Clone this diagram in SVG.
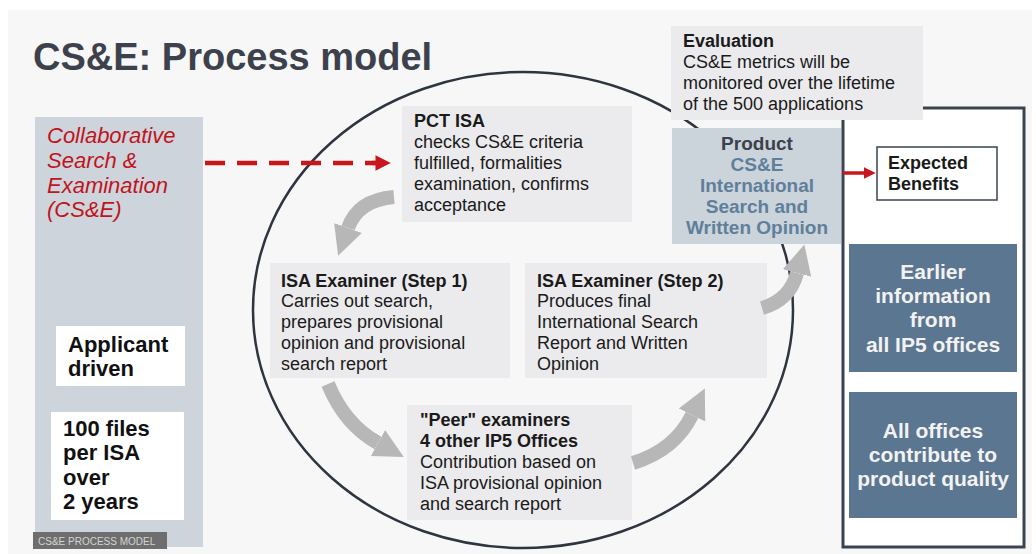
<svg xmlns="http://www.w3.org/2000/svg" width="1036" height="554" viewBox="0 0 1036 554">
<defs>
<style>
.t{font-family:"Liberation Sans",Arial,sans-serif;font-size:18px;fill:#1a1a1a}
.b{font-weight:bold}
.box{fill:#ebebed}
.red{font-family:"Liberation Sans",Arial,sans-serif;font-style:italic;font-size:22px;fill:#c0141c}
.wb{fill:#ffffff}
.blk{font-family:"Liberation Sans",Arial,sans-serif;font-weight:bold;font-size:22px;fill:#111}
.ben{fill:#5b7690}
.bt{font-family:"Liberation Sans",Arial,sans-serif;font-weight:bold;font-size:21px;fill:#f2f2f2;text-anchor:middle}
.pt{font-family:"Liberation Sans",Arial,sans-serif;font-weight:bold;font-size:19px;fill:#5f7f9a;text-anchor:middle}
.garrow{fill:none;stroke:#b7b7b7;stroke-width:14}
</style>
<marker id="gh" viewBox="0 0 10 10" refX="0" refY="5" markerWidth="2.1" markerHeight="2.5" orient="auto" markerUnits="strokeWidth">
<path d="M0,0 L10,5 L0,10 Z" fill="#b7b7b7"/>
</marker>
<marker id="rh" viewBox="0 0 10 10" refX="1" refY="5" markerWidth="3.4" markerHeight="3.6" orient="auto" markerUnits="strokeWidth">
<path d="M0,0 L10,5 L0,10 Z" fill="#c8161d"/>
</marker>
</defs>

<rect x="0" y="0" width="1036" height="554" fill="#ffffff"/>
<rect x="8" y="10" width="1024" height="544" fill="#f7f7f7"/>

<text x="33" y="70" font-family="Liberation Sans,Arial,sans-serif" font-weight="bold" font-size="38" fill="#3c414c">CS&amp;E: Process model</text>

<g id="left-panel">
<rect x="35" y="117" width="168" height="430" fill="#cdd4db"/>
<text class="red"><tspan x="47" y="143">Collaborative</tspan><tspan x="47" y="168">Search &amp;</tspan><tspan x="47" y="193">Examination</tspan><tspan x="47" y="217">(CS&amp;E)</tspan></text>
</g>
<g id="applicant">
<rect class="wb" x="56" y="326" width="129" height="60"/>
<text class="blk"><tspan x="68" y="352">Applicant</tspan><tspan x="68" y="376">driven</tspan></text>
</g>
<g id="files">
<rect class="wb" x="51" y="412" width="133" height="108"/>
<text class="blk"><tspan x="63" y="436">100 files</tspan><tspan x="63" y="460">per ISA</tspan><tspan x="63" y="485">over</tspan><tspan x="63" y="509">2 years</tspan></text>
</g>
<g id="footer">
<rect x="33" y="532" width="134" height="17" fill="#6e6e6e"/>
<text x="38" y="545" font-family="Liberation Sans,Arial,sans-serif" font-size="10" fill="#d4d4d4">CS&amp;E PROCESS MODEL</text>
</g>

<ellipse id="cycle" cx="523" cy="310" rx="270" ry="238" fill="none" stroke="#2e3440" stroke-width="2.5"/>

<g id="pct-isa">
<rect class="box" x="402" y="106" width="230" height="116"/>
<text class="t"><tspan class="b" x="414" y="127">PCT ISA</tspan><tspan x="414" y="148">checks CS&amp;E criteria</tspan><tspan x="414" y="169">fulfilled, formalities</tspan><tspan x="414" y="190">examination, confirms</tspan><tspan x="414" y="211">acceptance</tspan></text>
</g>

<g id="isa-step1">
<rect class="box" x="270" y="263" width="240" height="115"/>
<text class="t"><tspan class="b" x="281" y="287">ISA Examiner (Step 1)</tspan><tspan x="281" y="307">Carries out search,</tspan><tspan x="281" y="328">prepares provisional</tspan><tspan x="281" y="349">opinion and provisional</tspan><tspan x="281" y="370">search report</tspan></text>
</g>

<g id="isa-step2">
<rect class="box" x="525" y="263" width="242" height="115"/>
<text class="t"><tspan class="b" x="537" y="287">ISA Examiner (Step 2)</tspan><tspan x="537" y="307">Produces final</tspan><tspan x="537" y="328">International Search</tspan><tspan x="537" y="349">Report and Written</tspan><tspan x="537" y="370">Opinion</tspan></text>
</g>

<g id="peer">
<rect class="box" x="407" y="405" width="225" height="115"/>
<text class="t"><tspan class="b" x="420" y="426">"Peer" examiners</tspan><tspan class="b" x="420" y="447">4 other IP5 Offices</tspan><tspan x="420" y="468">Contribution based on</tspan><tspan x="420" y="489">ISA provisional opinion</tspan><tspan x="420" y="510">and search report</tspan></text>
</g>

<g id="benefits-frame">
<rect x="843" y="108" width="181" height="439" fill="#ffffff" stroke="#3a4350" stroke-width="3"/>
</g>

<g id="evaluation">
<rect class="box" x="671" y="26" width="252" height="94"/>
<text class="t"><tspan class="b" x="683" y="47">Evaluation</tspan><tspan x="683" y="68">CS&amp;E metrics will be</tspan><tspan x="683" y="89">monitored over the lifetime</tspan><tspan x="683" y="110">of the 500 applications</tspan></text>
</g>

<g id="product">
<rect x="672" y="128" width="169" height="116" fill="#cbd3db"/>
<text class="pt"><tspan x="757" y="150" fill="#3c414c">Product</tspan><tspan x="757" y="171">CS&amp;E</tspan><tspan x="757" y="192">International</tspan><tspan x="757" y="213">Search and</tspan><tspan x="757" y="234">Written Opinion</tspan></text>
</g>

<g id="expected-benefits">
<rect x="877" y="147" width="120" height="53" fill="#ffffff" stroke="#3a4350" stroke-width="1.5"/>
<text class="t b" font-size="18.5"><tspan x="888" y="169">Expected</tspan><tspan x="888" y="190">Benefits</tspan></text>
</g>

<g id="earlier-info">
<rect class="ben" x="849" y="244" width="168" height="128"/>
<text class="bt"><tspan x="933" y="279">Earlier</tspan><tspan x="933" y="303">information</tspan><tspan x="933" y="327">from</tspan><tspan x="933" y="352">all IP5 offices</tspan></text>
</g>

<g id="all-offices">
<rect class="ben" x="849" y="392" width="168" height="126"/>
<text class="bt" font-size="21.5"><tspan x="933" y="438">All offices</tspan><tspan x="933" y="462">contribute to</tspan><tspan x="933" y="486">product quality</tspan></text>
</g>

<g id="connectors">
<path d="M205 163 H376" stroke="#c8161d" stroke-width="4.5" stroke-dasharray="20 12" fill="none"/>
<path d="M372 163 H377" stroke="#c8161d" stroke-width="4.5" fill="none" marker-end="url(#rh)"/>
<path d="M843 173 H865" stroke="#c8161d" stroke-width="3.5" fill="none" marker-end="url(#rh)"/>
<path class="garrow" d="M394 197 Q358 200 348 228" marker-end="url(#gh)"/>
<path class="garrow" d="M328 384 Q345 425 378 443" marker-end="url(#gh)"/>
<path class="garrow" d="M633 463 Q675 450 692 415" marker-end="url(#gh)"/>
<path class="garrow" d="M762 308 Q790 300 797 273" marker-end="url(#gh)"/>
</g>
</svg>
